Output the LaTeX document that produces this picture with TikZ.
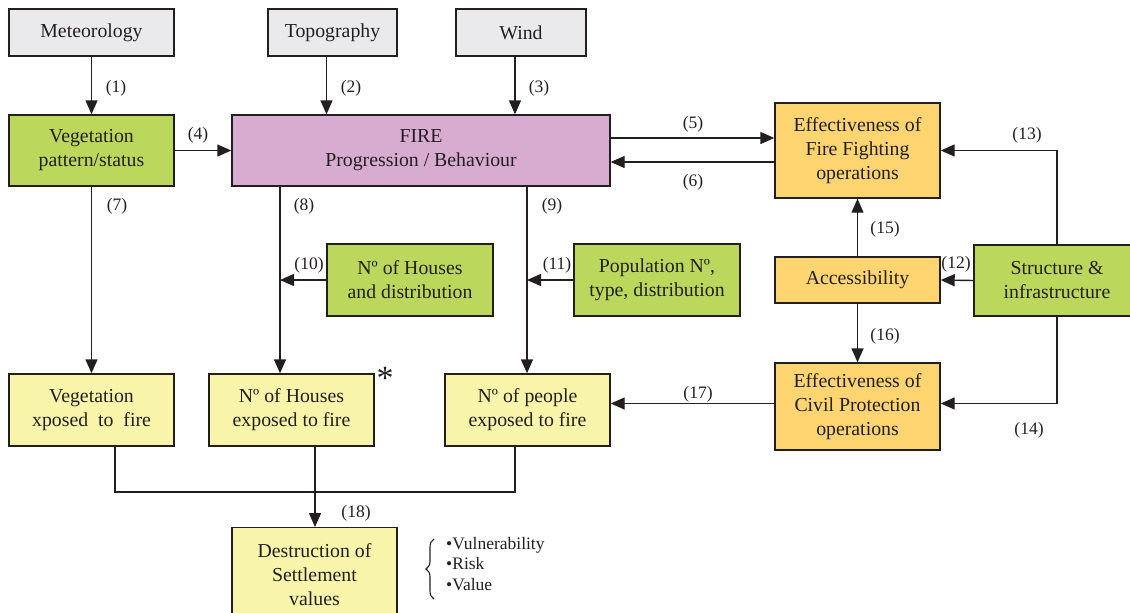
\documentclass[tikz,border=0pt]{standalone}
\usepackage{fontspec}
\setmainfont{Liberation Serif}
\usetikzlibrary{arrows.meta,decorations.pathreplacing}
\definecolor{ln}{HTML}{231F20}
\definecolor{cgray}{HTML}{EAEAEC}
\definecolor{cgreen}{HTML}{BCD85C}
\definecolor{cpink}{HTML}{D8ACD1}
\definecolor{corange}{HTML}{FFD572}
\definecolor{cyellow}{HTML}{F8F5AB}
\begin{document}
\begin{tikzpicture}[x=1pt,y=-1pt,
  box/.style={draw=ln,line width=1.4pt,inner sep=0pt,align=center,text=ln,
    font=\fontsize{19.8}{24}\selectfont},
  gbox/.style={box,fill=cgray},
  grbox/.style={box,fill=cgreen},
  obox/.style={box,fill=corange},
  ybox/.style={box,fill=cyellow},
  lab/.style={inner sep=0pt,text=ln,font=\fontsize{17.5}{20}\selectfont},
  arr/.style={draw=ln,line width=1.4pt,-{Triangle[length=14pt,width=12pt]}},
  ln/.style={draw=ln,line width=1.4pt}]
\useasboundingbox (0,0) rectangle (1130,613);
\fill[white] (0,0) rectangle (1130,613);
% boxes
\node[gbox,minimum width=165pt,minimum height=47pt] (met) at (91.5,32.5) {Meteorology};
\node[gbox,minimum width=129pt,minimum height=47pt] (topo) at (332.5,32.5) {Topography};
\node[gbox,minimum width=130pt,minimum height=47pt] (wind) at (521,32.5) {Wind};
\node[grbox,minimum width=165pt,minimum height=71pt] (veg) at (91.5,150.5) {Vegetation\\pattern/status};
\node[box,fill=cpink,minimum width=378pt,minimum height=71pt] (fire) at (421,150.5) {FIRE\\Progression / Behaviour};
\node[obox,minimum width=165pt,minimum height=95pt] (ff) at (857.5,150.5) {Effectiveness of\\Fire Fighting\\operations};
\node[obox,minimum width=165pt,minimum height=46pt] (acc) at (857.5,280) {Accessibility};
\node[grbox,minimum width=166pt,minimum height=71pt] (str) at (1057,280.5) {Structure \&\\infrastructure};
\node[grbox,minimum width=166pt,minimum height=72pt] (hd) at (410,280) {Nº of Houses\\and distribution};
\node[grbox,minimum width=166pt,minimum height=72pt] (pop) at (657,280) {Population Nº,\\type, distribution};
\node[obox,minimum width=165pt,minimum height=87pt] (cp) at (857.5,406.5) {Effectiveness of\\Civil Protection\\operations};
\node[ybox,minimum width=165pt,minimum height=72pt] (vx) at (91.5,410) {Vegetation\\xposed\ \ to\ \ fire};
\node[ybox,minimum width=165pt,minimum height=72pt] (hx) at (291.5,410) {Nº of Houses\\exposed to fire};
\node[ybox,minimum width=165pt,minimum height=72pt] (px) at (527.5,410) {Nº of people\\exposed to fire};
\node[ybox,minimum width=165pt,minimum height=93pt,anchor=north] (dest) at (314.5,527) {Destruction of\\Settlement\\values};
\node[inner sep=0pt,text=ln,font=\fontsize{34}{34}\selectfont] (ast) at (385,378) {*};
% connectors
\draw[arr] (met.south) -- (veg.north);
\draw[arr] ([xshift=-6pt]topo.south) -- ([xshift=-6pt]topo.south |- fire.north);
\draw[arr] ([xshift=-6pt]wind.south) -- ([xshift=-6pt]wind.south |- fire.north);
\draw[arr] (veg.east) -- (fire.west);
\draw[arr] (fire.east |- 0,138) -- (ff.west |- 0,138);
\draw[arr] (ff.west |- 0,162) -- (fire.east |- 0,162);
\draw[arr] (veg.south) -- (vx.north);
\coordinate (c8) at (280,186);
\coordinate (c9) at (527,186);
\draw[arr] (c8 |- fire.south) -- (c8 |- hx.north);
\draw[arr] (c9 |- fire.south) -- (c9 |- px.north);
\draw[arr] (hd.west) -- (hd.west -| c8);
\draw[arr] (pop.west) -- (pop.west -| c9);
\draw[arr] (str.west) -- (acc.east);
\draw[arr] (str.north) |- (ff.east);
\draw[arr] (str.south) |- ([yshift=3pt]cp.east);
\draw[arr] (acc.north) -- (ff.south);
\draw[arr] (acc.south) -- (cp.north);
\draw[arr] ([yshift=3pt]cp.west) -- ([yshift=3pt]cp.west -| px.east);
\coordinate (jn) at (315,492);
\draw[ln] ([xshift=23.5pt]vx.south) |- (jn) -| ([xshift=-12.5pt]px.south);
\draw[arr] ([xshift=23.5pt]hx.south) -- ([xshift=23.5pt]hx.south |- dest.north);
% labels
\node[lab] (l1) at (116,88) {(1)};
\node[lab] (l2) at (351,88) {(2)};
\node[lab] (l3) at (539,88) {(3)};
\node[lab] (l4) at (198,135) {(4)};
\node[lab] (l5) at (693,124) {(5)};
\node[lab] (l6) at (693,182) {(6)};
\node[lab] (l7) at (117,206) {(7)};
\node[lab] (l8) at (304,206) {(8)};
\node[lab] (l9) at (552,206) {(9)};
\node[lab] (l10) at (309,265) {(10)};
\node[lab] (l11) at (557,265) {(11)};
\node[lab] (l12) at (956,264) {(12)};
\node[lab] (l13) at (1027,135) {(13)};
\node[lab] (l14) at (1029,430) {(14)};
\node[lab] (l15) at (885,229) {(15)};
\node[lab] (l16) at (885,336) {(16)};
\node[lab] (l17) at (698,394) {(17)};
\node[lab] (l18) at (356,513) {(18)};
\draw[ln,line width=1.1pt,decorate,decoration={brace,amplitude=8pt}] (434,599) -- (434,539);
\node[inner sep=0pt,text=ln,align=left,anchor=north west,font=\fontsize{17.5}{20.5}\selectfont] (lst) at (446,537) {•Vulnerability\\•Risk\\•Value};
\end{tikzpicture}
\end{document}
